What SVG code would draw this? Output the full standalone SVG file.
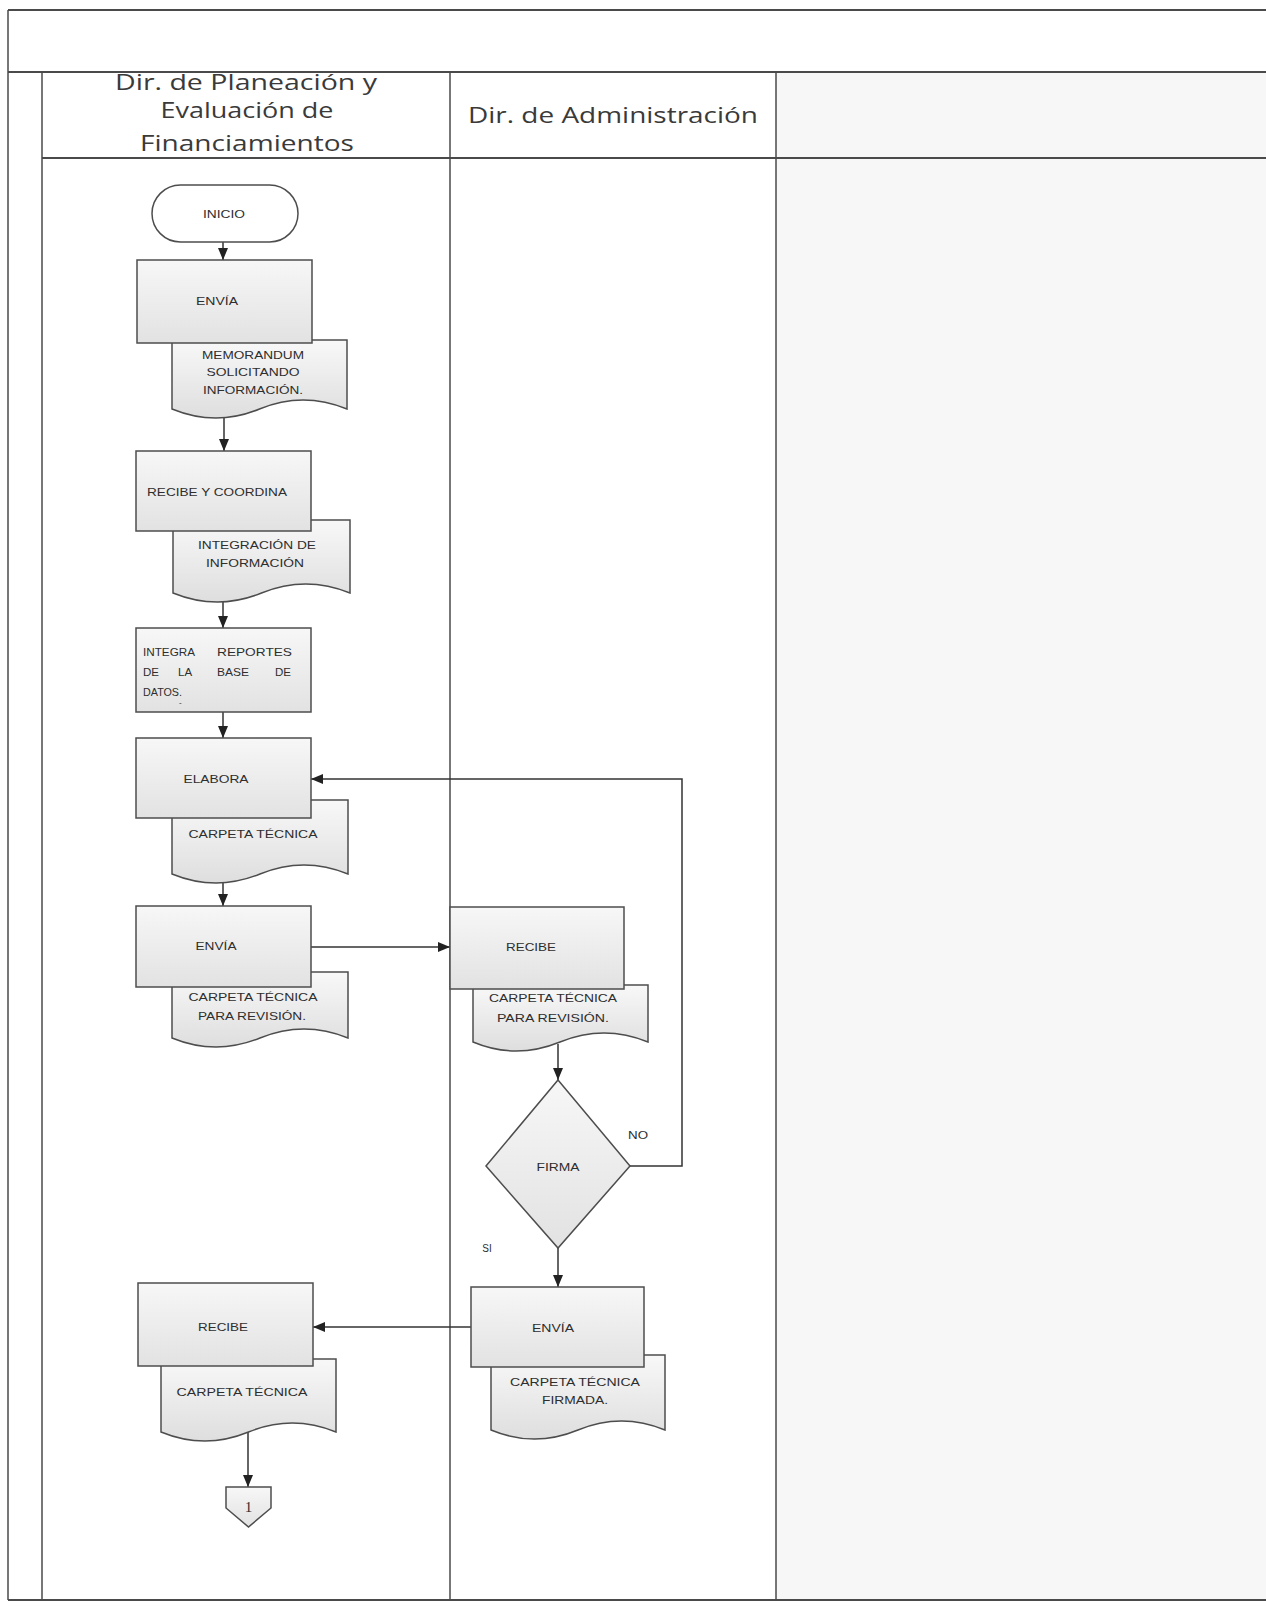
<svg xmlns="http://www.w3.org/2000/svg" width="1266" height="1608" viewBox="0 0 1266 1608">
<style>
.frame{stroke:#4a4a4a;stroke-width:1.5;fill:none}
.hdr{font-family:"Open Sans","DejaVu Sans",sans-serif;font-size:21px;fill:#3a3a3a;text-anchor:middle}
.box{fill:url(#gBox);stroke:#4d4d4d;stroke-width:1.5}
.doc{fill:url(#gDoc);stroke:#4d4d4d;stroke-width:1.5}
.term{fill:#ffffff;stroke:#4d4d4d;stroke-width:1.5}
.t{font-family:"Liberation Sans",Arial,sans-serif;font-size:11.5px;fill:#2e2e2e;text-anchor:middle}
.tl{font-family:"Liberation Sans",Arial,sans-serif;font-size:11.5px;fill:#2e2e2e}
.conn{stroke:#333;stroke-width:1.5;fill:none;marker-end:url(#arr)}
</style>
<defs>
<linearGradient id="gBox" x1="0" y1="0" x2="0" y2="1">
<stop offset="0" stop-color="#f7f7f7"/><stop offset="1" stop-color="#e2e2e2"/>
</linearGradient>
<linearGradient id="gDoc" x1="0" y1="0" x2="0" y2="1">
<stop offset="0" stop-color="#f8f8f8"/><stop offset="1" stop-color="#dedede"/>
</linearGradient>
<marker id="arr" viewBox="0 0 12 10" refX="12" refY="5" markerWidth="12" markerHeight="10" orient="auto" markerUnits="userSpaceOnUse">
<path d="M0,0 L12,5 L0,10 z" fill="#222"/>
</marker>
</defs>
<rect x="0" y="0" width="1266" height="1608" fill="#ffffff"/>
<rect x="776" y="72" width="490" height="1528" fill="#f7f7f7"/>
<g id="frame">
<line class="frame" x1="8" y1="10" x2="1266" y2="10" style="stroke-width:2"/>
<line class="frame" x1="8" y1="10" x2="8" y2="1600"/>
<line class="frame" x1="8" y1="72" x2="1266" y2="72" style="stroke-width:2"/>
<line class="frame" x1="42" y1="72" x2="42" y2="1600"/>
<line class="frame" x1="450" y1="72" x2="450" y2="1600"/>
<line class="frame" x1="776" y1="72" x2="776" y2="1600"/>
<line class="frame" x1="42" y1="158" x2="1266" y2="158" style="stroke-width:2"/>
<line class="frame" x1="8" y1="1600" x2="1266" y2="1600" style="stroke-width:2"/>
</g>
<g id="lane-headers">
<text class="hdr" x="246" y="90" textLength="262" lengthAdjust="spacingAndGlyphs">Dir. de Planeación y</text>
<text class="hdr" x="247" y="118" textLength="173" lengthAdjust="spacingAndGlyphs">Evaluación de</text>
<text class="hdr" x="247" y="151" textLength="214" lengthAdjust="spacingAndGlyphs">Financiamientos</text>
<text class="hdr" x="613" y="123" textLength="290" lengthAdjust="spacingAndGlyphs">Dir. de Administración</text>
</g>
<g id="connectors">
<path class="conn" d="M223,242 V260"/>
<path class="conn" d="M224,417 V451"/>
<path class="conn" d="M223,602 V628"/>
<path class="conn" d="M223,712 V738"/>
<path class="conn" d="M223,882 V906"/>
<path class="conn" d="M311,947 H450"/>
<path class="conn" d="M558,1044 V1080"/>
<path class="conn" d="M630,1166 H682 V779 H311"/>
<path class="conn" d="M558,1248 V1287"/>
<path class="conn" d="M471,1327 H313"/>
<path class="conn" d="M248,1432 V1487"/>
</g>
<g id="inicio">
<rect class="term" x="152" y="185" width="146" height="57" rx="28.5"/>
<text class="t" x="224" y="218" textLength="42" lengthAdjust="spacingAndGlyphs">INICIO</text>
</g>
<g id="doc-memorandum">
<path class="doc" d="M172,340 H347 V409 Q303,391 259.5,409 T172,409 Z"/>
<text class="t" x="253" y="359" textLength="102" lengthAdjust="spacingAndGlyphs">MEMORANDUM</text>
<text class="t" x="253" y="376" textLength="93" lengthAdjust="spacingAndGlyphs">SOLICITANDO</text>
<text class="t" x="253" y="394" textLength="100" lengthAdjust="spacingAndGlyphs">INFORMACIÓN.</text>
</g>
<g id="envia-1">
<rect class="box" x="137" y="260" width="175" height="83"/>
<text class="t" x="217" y="305" textLength="42" lengthAdjust="spacingAndGlyphs">ENVÍA</text>
</g>
<g id="doc-integracion">
<path class="doc" d="M173,520 H350 V593 Q305.75,575 261.5,593 T173,593 Z"/>
<text class="t" x="257" y="549" textLength="118" lengthAdjust="spacingAndGlyphs">INTEGRACIÓN DE</text>
<text class="t" x="255" y="567" textLength="98" lengthAdjust="spacingAndGlyphs">INFORMACIÓN</text>
</g>
<g id="recibe-coordina">
<rect class="box" x="136" y="451" width="175" height="80"/>
<text class="t" x="217" y="496" textLength="140" lengthAdjust="spacingAndGlyphs">RECIBE Y COORDINA</text>
</g>
<g id="integra-reportes">
<rect class="box" x="136" y="628" width="175" height="84"/>
<text class="tl" y="656"><tspan x="143" textLength="52" lengthAdjust="spacingAndGlyphs">INTEGRA</tspan><tspan x="217" textLength="75" lengthAdjust="spacingAndGlyphs">REPORTES</tspan></text>
<text class="tl" y="676"><tspan x="143">DE</tspan><tspan x="178">LA</tspan><tspan x="217" textLength="32" lengthAdjust="spacingAndGlyphs">BASE</tspan><tspan x="275">DE</tspan></text>
<text class="tl" x="143" y="696" textLength="39" lengthAdjust="spacingAndGlyphs">DATOS.</text>
<text class="tl" x="179" y="705" style="font-size:8px">-</text>
</g>
<g id="doc-carpeta-1">
<path class="doc" d="M172,800 H348 V874 Q304,856 260,874 T172,874 Z"/>
<text class="t" x="253" y="838" textLength="129" lengthAdjust="spacingAndGlyphs">CARPETA TÉCNICA</text>
</g>
<g id="elabora">
<rect class="box" x="136" y="738" width="175" height="80"/>
<text class="t" x="216" y="783" textLength="65" lengthAdjust="spacingAndGlyphs">ELABORA</text>
</g>
<g id="doc-carpeta-revision-1">
<path class="doc" d="M172,972 H348 V1038 Q304,1020 260,1038 T172,1038 Z"/>
<text class="t" x="253" y="1001" textLength="129" lengthAdjust="spacingAndGlyphs">CARPETA TÉCNICA</text>
<text class="t" x="252" y="1020" textLength="108" lengthAdjust="spacingAndGlyphs">PARA REVISIÓN.</text>
</g>
<g id="envia-2">
<rect class="box" x="136" y="906" width="175" height="81"/>
<text class="t" x="216" y="950" textLength="41" lengthAdjust="spacingAndGlyphs">ENVÍA</text>
</g>
<g id="doc-carpeta-revision-2">
<path class="doc" d="M473,985 H648 V1042 Q604,1024 560,1042 T473,1042 Z"/>
<text class="t" x="553" y="1002" textLength="128" lengthAdjust="spacingAndGlyphs">CARPETA TÉCNICA</text>
<text class="t" x="553" y="1022" textLength="112" lengthAdjust="spacingAndGlyphs">PARA REVISIÓN.</text>
</g>
<g id="recibe-1">
<rect class="box" x="450" y="907" width="174" height="82"/>
<text class="t" x="531" y="951" textLength="50" lengthAdjust="spacingAndGlyphs">RECIBE</text>
</g>
<g id="firma">
<path class="box" d="M558,1080 L630,1166 L558,1248 L486,1166 Z"/>
<text class="t" x="558" y="1171" textLength="43" lengthAdjust="spacingAndGlyphs">FIRMA</text>
</g>
<g id="labels">
<text class="t" x="638" y="1139" textLength="20" lengthAdjust="spacingAndGlyphs">NO</text>
<text class="t" x="487" y="1252" style="font-size:10px">SI</text>
</g>
<g id="doc-firmada">
<path class="doc" d="M491,1355 H665 V1430 Q621.5,1412 578,1430 T491,1430 Z"/>
<text class="t" x="575" y="1386" textLength="130" lengthAdjust="spacingAndGlyphs">CARPETA TÉCNICA</text>
<text class="t" x="575" y="1404" textLength="66" lengthAdjust="spacingAndGlyphs">FIRMADA.</text>
</g>
<g id="envia-3">
<rect class="box" x="471" y="1287" width="173" height="80"/>
<text class="t" x="553" y="1332" textLength="42" lengthAdjust="spacingAndGlyphs">ENVÍA</text>
</g>
<g id="doc-carpeta-final">
<path class="doc" d="M161,1359 H336 V1432 Q292.25,1414 248.5,1432 T161,1432 Z"/>
<text class="t" x="242" y="1396" textLength="131" lengthAdjust="spacingAndGlyphs">CARPETA TÉCNICA</text>
</g>
<g id="recibe-2">
<rect class="box" x="138" y="1283" width="175" height="83"/>
<text class="t" x="223" y="1331" textLength="50" lengthAdjust="spacingAndGlyphs">RECIBE</text>
</g>
<g id="connector-1">
<path class="box" d="M226,1487 H271 V1508 L248.5,1527 L226,1508 Z"/>
<text class="t" x="248.5" y="1512" style="font-family:'Liberation Serif',serif;font-size:15px">1</text>
</g>
</svg>
